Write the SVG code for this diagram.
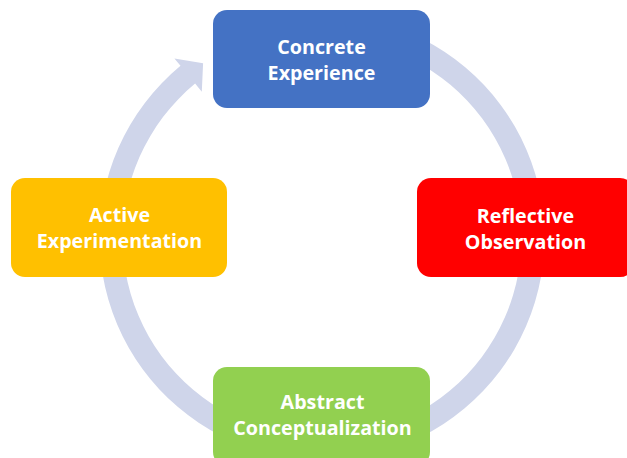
<svg xmlns="http://www.w3.org/2000/svg" width="627" height="458" viewBox="0 0 627 458">
<style>
.box{stroke:none}
.lbl{font-family:"Open Sans","Liberation Sans",sans-serif;font-weight:bold;font-size:19.7px;fill:#FFFFFF;text-anchor:middle}
</style>
<rect width="627" height="458" fill="#FFFFFF"/>
<g id="connectors">
<path d="M322,15 A222.5,222.5 0 1,1 180.5,65.8 L174.4,58.5 L203.1,63.2 L201.8,91.7 L195.1,83.6 A199.5,199.5 0 1,0 322,38 Z" fill="#CFD5EA"/>
</g>
<g id="concrete-experience">
<rect class="box" x="213" y="10" width="217" height="98" rx="14" fill="#4472C4"/>
<text class="lbl" x="321.5" y="53.5">Concrete</text>
<text class="lbl" x="321.5" y="79.5">Experience</text>
</g>
<g id="reflective-observation">
<rect class="box" x="417" y="178" width="217" height="99" rx="14" fill="#FF0000"/>
<text class="lbl" x="525.5" y="222.5">Reflective</text>
<text class="lbl" x="525.5" y="248.5">Observation</text>
</g>
<g id="active-experimentation">
<rect class="box" x="11" y="178" width="216" height="99" rx="14" fill="#FFC000"/>
<text class="lbl" x="119.5" y="221.5">Active</text>
<text class="lbl" x="119.5" y="247.5">Experimentation</text>
</g>
<g id="abstract-conceptualization">
<rect class="box" x="213" y="367" width="217" height="99" rx="14" fill="#92D050"/>
<text class="lbl" x="322.5" y="408.5">Abstract</text>
<text class="lbl" x="322.5" y="434.5">Conceptualization</text>
</g>
</svg>
